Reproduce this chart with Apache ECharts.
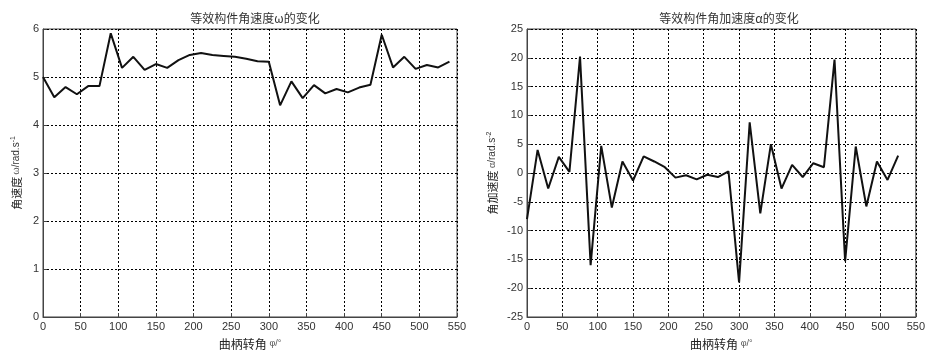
<!DOCTYPE html>
<html><head><meta charset="utf-8">
<script src="https://cdn.jsdelivr.net/npm/echarts@6/dist/echarts.min.js"></script>
<style>html,body{margin:0;padding:0;background:#fff}#c{width:928px;height:355px}</style>
</head><body><div id="c"></div>
<script>
const titleLeft = '等效构件角速度ω的变化';
const titleRight = '等效构件角加速度α的变化';
const xAxisName = '曲柄转角';
const xTicks = [0, 50, 100, 150, 200, 250, 300, 350, 400, 450, 500, 550];
const omegaTicks = [0, 1, 2, 3, 4, 5, 6];
const alphaTicks = [-25, -20, -15, -10, -5, 0, 5, 10, 15, 20, 25];

const angleOmega = [0,15,30,45,60,75,90,105,120,135,150,165,180,195,210,225,240,255,270,285,300,315,330,345,360,375,390,405,420,435,450,465,480,495,510,525,540];
const omega = [5.00,4.58,4.79,4.64,4.81,4.81,5.91,5.19,5.42,5.15,5.27,5.19,5.35,5.46,5.50,5.46,5.44,5.42,5.38,5.33,5.32,4.41,4.91,4.56,4.83,4.66,4.75,4.68,4.78,4.84,5.88,5.20,5.42,5.17,5.25,5.20,5.32];

const angleAlpha = [0,15,30,45,60,75,90,105,120,135,150,165,180,195,210,225,240,255,270,285,300,315,330,345,360,375,390,405,420,435,450,465,480,495,510,525];
const alpha = [-8.0,4.0,-2.7,2.8,0.2,20.2,-16.0,4.7,-6.0,2.0,-1.3,2.9,2.0,1.0,-0.8,-0.4,-1.1,-0.3,-0.7,0.3,-19.0,8.8,-7.0,5.0,-2.7,1.4,-0.7,1.7,1.0,19.7,-15.3,4.6,-5.8,2.0,-1.2,3.0];

const numFont = 'Liberation Sans';
const cjkFont = 'Noto Sans CJK SC';
const gridLine = {show: true, lineStyle: {color: '#000', type: [2, 2], width: 1}};

function xAxis(gi) {
  return {
    type: 'value', gridIndex: gi, min: xTicks[0], max: xTicks[xTicks.length - 1],
    interval: xTicks[1] - xTicks[0],
    name: xAxisName + ' {g|φ/°}', nameLocation: 'middle', nameGap: 21,
    nameTextStyle: {fontFamily: cjkFont, fontSize: 12, color: '#222',
      rich: {g: {fontFamily: numFont, fontSize: 9, color: '#555'}}},
    axisLine: {show: true, onZero: false, lineStyle: {color: '#444'}},
    axisTick: {show: true, inside: true, length: 4, lineStyle: {color: '#444'}},
    axisLabel: {fontFamily: numFont, fontSize: 11, color: '#333', margin: 4},
    splitLine: gridLine
  };
}
function yAxis(gi, ticks, name, gap) {
  return {
    type: 'value', gridIndex: gi, min: ticks[0], max: ticks[ticks.length - 1],
    interval: ticks[1] - ticks[0],
    name: name, nameLocation: 'middle', nameRotate: 90, nameGap: gap,
    nameTextStyle: {fontFamily: cjkFont, fontSize: 11, color: '#222',
      rich: {g: {fontFamily: numFont, fontSize: 9, color: '#555'},
             u: {fontFamily: numFont, fontSize: 10, color: '#333'},
             sup: {fontFamily: numFont, fontSize: 7, color: '#333', verticalAlign: 'top', padding: [0,0,6,0]}}},
    axisLine: {show: true, onZero: false, lineStyle: {color: '#444'}},
    axisTick: {show: true, inside: true, length: 4, lineStyle: {color: '#444'}},
    axisLabel: {fontFamily: numFont, fontSize: 11, color: '#333', margin: 4},
    splitLine: gridLine
  };
}

const chart = echarts.init(document.getElementById('c'));
chart.setOption({
  animation: false,
  backgroundColor: '#fff',
  title: [
    {text: titleLeft, left: 250, top: 7, textAlign: 'center',
     textStyle: {fontFamily: cjkFont, fontSize: 12, fontWeight: 'normal', color: '#333'}},
    {text: titleRight, left: 724, top: 7, textAlign: 'center',
     textStyle: {fontFamily: cjkFont, fontSize: 12, fontWeight: 'normal', color: '#333'}}
  ],
  grid: [
    {left: 43, right: 471, top: 29, bottom: 31, show: true, borderColor: '#444', borderWidth: 1, backgroundColor: 'transparent'},
    {left: 527, right: 7, top: 29, bottom: 32, show: true, borderColor: '#444', borderWidth: 1, backgroundColor: 'transparent'}
  ],
  xAxis: [xAxis(0), xAxis(1)],
  yAxis: [
    yAxis(0, omegaTicks, '角速度 {g|ω}{u|/rad.s}{sup|-1}', 20),
    yAxis(1, alphaTicks, '角加速度 {g|α}{u|/rad.s}{sup|-2}', 28)
  ],
  series: [
    {type: 'line', xAxisIndex: 0, yAxisIndex: 0, showSymbol: false,
     lineStyle: {color: '#111', width: 2}, data: angleOmega.map((a, i) => [a, omega[i]])},
    {type: 'line', xAxisIndex: 1, yAxisIndex: 1, showSymbol: false,
     lineStyle: {color: '#111', width: 2}, data: angleAlpha.map((a, i) => [a, alpha[i]])}
  ]
});
</script></body></html>
